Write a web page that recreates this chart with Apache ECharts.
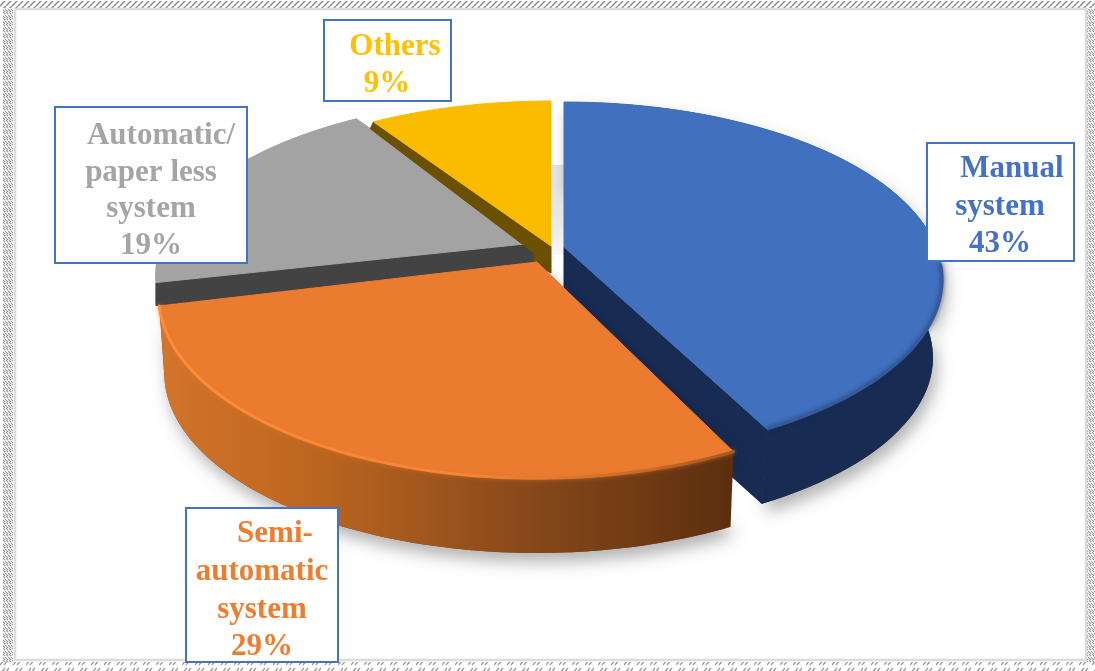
<!DOCTYPE html>
<html><head><meta charset="utf-8">
<style>html,body{margin:0;padding:0;background:#fff}#c{width:1095px;height:671px}</style>
<script src="https://cdn.jsdelivr.net/npm/echarts@6/dist/echarts.min.js"></script>
</head><body><div id="c"></div>
<script>
const categories = ['Manual system','Semi-automatic system','Automatic/paper less system','Others'];
const values = [43,29,19,9];
const labelLines = [['Manual','system'],['Semi-','automatic','system'],['Automatic/','paper less','system'],['Others']];
const labelColors = ['#4472C4','#ED7D31','#A5A5A5','#FFC000'];

// projection of the tilted disc (pixels) and per-slice presentation
const R=372,S=171.5,K=0.183;
const look=[
 {ax:564,ay:247,a0:0,a1:-2,depth:79,s:.975,sy:1,top:'#4070BE',side:'#182B52',z:20},
 {ax:537,ay:262,a0:-1,a1:-3,depth:78,s:.985,sy:1.03,top:'#EA7B2F',side:'#7a3f14',z:30},
 {ax:534,ay:243,a0:-2,a1:-1,depth:23,s:1,sy:1,top:'#A3A3A3',side:'#434343',z:5},
 {ax:551,ay:246,a0:-1,a1:0,depth:27,s:1,sy:1,top:'#FBBC00',side:'#6A5000',z:10}
];
const boxes=[
 {x:927,y:143,w:147,h:118,cx:[1012,1000,1000],cy:[169,207,244]},
 {x:186,y:508,w:152,h:154,cx:[275,262,262,262],cy:[534,572,610,647]},
 {x:55,y:107,w:192,h:156,cx:[161,151,151,151],cy:[136,173,209,246]},
 {x:324,y:20,w:127,h:81,cx:[395,387],cy:[47,84]}
];
const total=values.reduce((a,b)=>a+b,0);
function rel(deg,sy){const t=deg*Math.PI/180,u=Math.sin(t),v=Math.cos(t),d=1+K*v;return [R*u/d,-S*sy*v/d];}
function renderSlice(params,api){
  const i=params.dataIndex,L=look[i];
  let before=0;for(let j=0;j<i;j++)before+=values[j];
  const t0=before/total*360+L.a0,t1=(before+api.value(0))/total*360+L.a1;
  const rim=[];const n=80;
  for(let j=0;j<=n;j++){rim.push(rel(t0+(t1-t0)*j/n,L.sy));}
  const T=r=>[L.ax+r[0],L.ay+r[1]];
  const B=r=>[L.ax+L.s*r[0],L.ay+L.depth+L.s*r[1]];
  const topPts=[[L.ax,L.ay]].concat(rim.map(T));
  const wallPts=rim.map(T).concat(rim.slice().reverse().map(B));
  const e0=rim[0],e1=rim[n];
  const kids=[];
  const grad=(i===1)?{type:'linear',x:155,y:0,x2:735,y2:0,global:true,colorStops:[
     {offset:0,color:'#d4752b'},{offset:.3,color:'#b9641f'},{offset:.62,color:'#8a4a1b'},{offset:1,color:'#5c2e0e'}]}
     :(i===2?'#c6c6c6':L.side);
  if(i<2){
    const sil=[[L.ax,L.ay]].concat(rim.map(T)).concat(rim.slice().reverse().map(B)).concat([[L.ax,L.ay+L.depth]]);
    kids.push({type:'polygon',z2:L.z-1,shape:{points:sil},style:{fill:L.side,shadowBlur:16,shadowColor:'rgba(0,0,0,.3)',shadowOffsetX:4,shadowOffsetY:9}});
  }
  // straight side walls
  let side=null;
  if(i===0) side=[[L.ax,L.ay],T(e1),B(e1),[L.ax,L.ay+L.depth]];
  if(i===2) side=[[L.ax,L.ay],T(e0),B(e0),[L.ax,L.ay+L.depth]];
  if(i===3){const e=T(e0);side=[[L.ax,L.ay],e,[e[0]-3,e[1]+7],[L.ax-17,L.ay+7],[L.ax-17,L.ay+18],[L.ax,L.ay+L.depth]];}
  if(side) kids.push({type:'polygon',z2:L.z+1,shape:{points:side},style:{fill:L.side,stroke:L.side,lineWidth:1,lineJoin:'round'}});
  if(i<3) kids.push({type:'polygon',z2:L.z,shape:{points:wallPts},style:{fill:grad}});
  kids.push({type:'polygon',z2:L.z+2,shape:{points:topPts},style:{fill:L.top,stroke:L.top,lineWidth:1,lineJoin:'round'}});
  if(i===1){
    kids.push({type:'polyline',z2:L.z+3,shape:{points:rim.map(T)},style:{fill:null,lineWidth:3,lineCap:'round',
      stroke:{type:'linear',x:155,y:0,x2:735,y2:0,global:true,colorStops:[
        {offset:0,color:'#ff8c38'},{offset:.55,color:'#f58434'},{offset:.85,color:'#c96a24'},{offset:1,color:'#a05a20'}]},
      shadowBlur:4,shadowColor:'rgba(230,120,40,.7)'}});
  }
  if(i===0){
    const seg=rim.slice(50).map(T);
    kids.push({type:'polyline',z2:L.z+3,shape:{points:seg},style:{fill:null,lineWidth:2.5,stroke:'#35599b',shadowBlur:4,shadowColor:'rgba(24,43,82,.8)'}});
  }
  return {type:'group',children:kids};
}

function tile(w,h,draw){const c=document.createElement('canvas');c.width=w;c.height=h;const g=c.getContext('2d');g.fillStyle='#fff';g.fillRect(0,0,w,h);draw(g);return c;}
const hatchTop=tile(6,6,g=>{g.strokeStyle='#8c8c8c';g.lineWidth=1.5;for(let o=-6;o<=12;o+=6){g.beginPath();g.moveTo(o,6);g.lineTo(o+6,0);g.stroke();}});
const hatchSide=tile(6,6,g=>{g.fillStyle='#969696';[[0,0],[1,1],[3,0],[4,1],[2,3],[3,4],[5,3],[0,4],[1,5],[4,5]].forEach(p=>g.fillRect(p[0],p[1],1.3,1.3));});
const hatchBottom=tile(13,9,g=>{g.strokeStyle='#999';g.lineWidth=1.2;[0,4].forEach(o=>{g.beginPath();g.moveTo(o,8);g.lineTo(o+5,2);g.stroke();});});

const frame=[
 {type:'rect',z:1,shape:{x:0,y:1,width:1095,height:7},style:{fill:{image:hatchTop,repeat:'repeat'}}},
 {type:'rect',z:1,shape:{x:0,y:662,width:1095,height:9},style:{fill:{image:hatchBottom,repeat:'repeat'}}},
 {type:'rect',z:1,shape:{x:3,y:8,width:10,height:654},style:{fill:{image:hatchSide,repeat:'repeat'}}},
 {type:'rect',z:1,shape:{x:1087,y:8,width:8,height:654},style:{fill:{image:hatchSide,repeat:'repeat'}}},
 {type:'rect',z:1,shape:{x:15,y:9,width:1071,height:651},style:{fill:'#fff',stroke:'#dcdcdc',lineWidth:2.5}},
 {type:'rect',z:2,shape:{x:552,y:165,width:12,height:90},style:{fill:{type:'linear',x:0,y:0,x2:0,y2:1,colorStops:[{offset:0,color:'#e4e4e4'},{offset:.6,color:'#e8e8e8'},{offset:1,color:'#f8f8f8'}]}}}
];
const labelEls=[];
boxes.forEach((b,i)=>{
  labelEls.push({type:'rect',z:50,shape:{x:b.x,y:b.y,width:b.w,height:b.h},style:{fill:'#fff',stroke:'#4472C4',lineWidth:2}});
  labelLines[i].concat([values[i]+'%']).forEach((line,k)=>{
    labelEls.push({type:'text',z:51,x:b.cx[k],y:b.cy[k],style:{text:line,fill:labelColors[i],
      font:'bold 31px "Liberation Serif"',align:'center',verticalAlign:'middle'}});
  });
});
const chart=echarts.init(document.getElementById('c'),null,{renderer:'canvas'});
chart.setOption({
  animation:false,
  backgroundColor:'#fff',
  graphic:{elements:frame.concat(labelEls)},
  series:[{type:'custom',coordinateSystem:'none',silent:true,z:10,clip:false,
    data:values.map((v,i)=>({name:categories[i],value:[v]})),
    renderItem:renderSlice}]
});
</script></body></html>
